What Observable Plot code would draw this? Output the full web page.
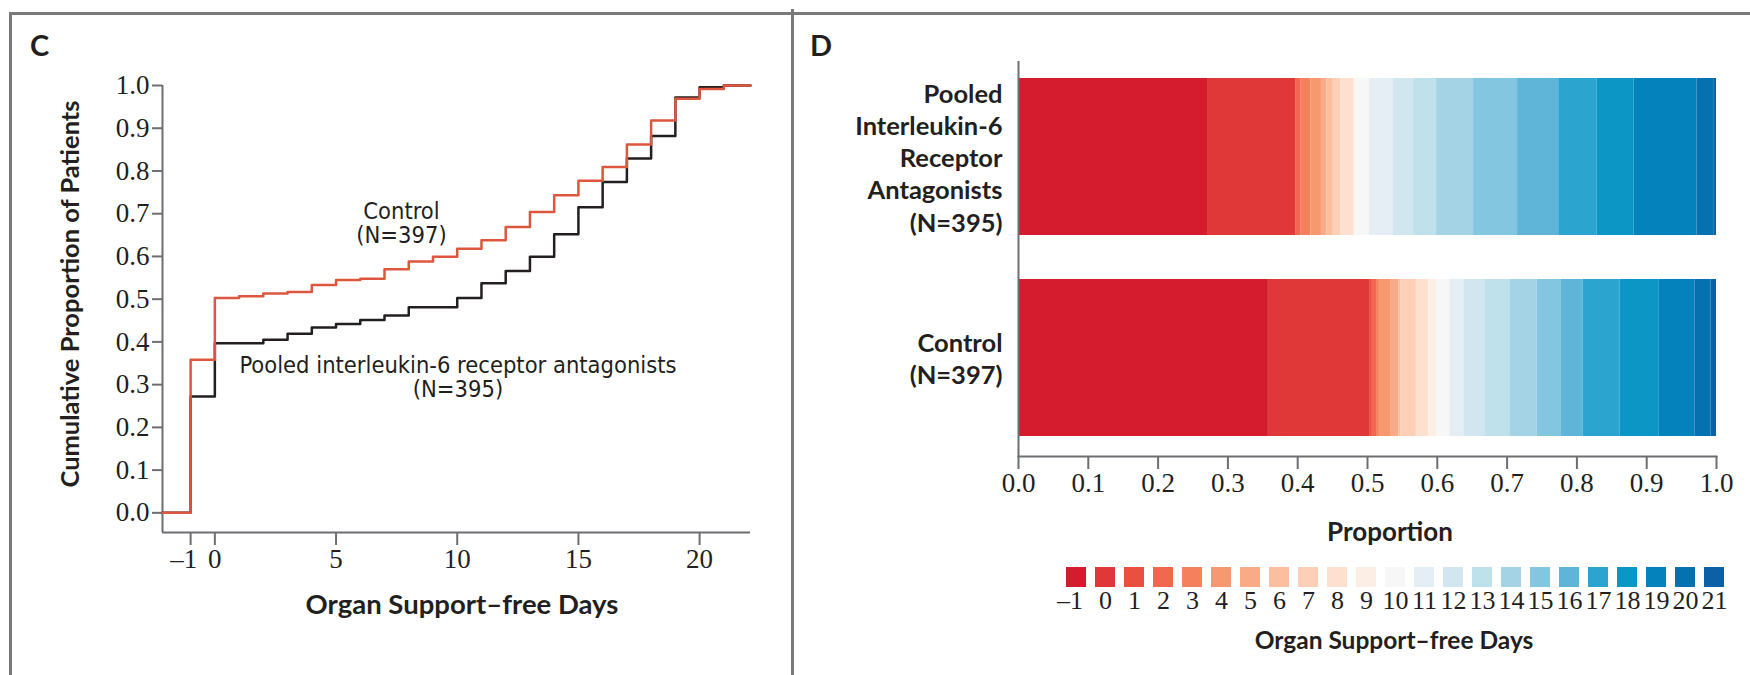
<!DOCTYPE html>
<html><head><meta charset="utf-8">
<script src="https://cdn.jsdelivr.net/npm/d3@7"></script>
<script src="https://cdn.jsdelivr.net/npm/@observablehq/plot@0.6"></script>
<style>
html,body{margin:0;padding:0;background:#fff;}
#root{position:relative;width:1750px;height:675px;overflow:hidden;background:#fff;}
#root svg{position:absolute;overflow:visible;}
.t{position:absolute;white-space:pre;color:#231f20;line-height:1;}
.line{position:absolute;background:#7a7a7a;}
</style></head><body><div id="root"></div>
<script>
// ---------- data ----------
const days = [-1,0,1,2,3,4,5,6,7,8,9,10,11,12,13,14,15,16,17,18,19,20,21];
// cumulative proportion of patients with organ support-free days <= day
const controlCum = [0.358,0.503,0.507,0.513,0.517,0.533,0.545,0.548,0.570,0.588,0.599,0.618,0.638,0.669,0.704,0.743,0.777,0.809,0.862,0.918,0.969,0.992,1.000];
const pooledCum  = [0.272,0.397,0.397,0.405,0.419,0.434,0.442,0.451,0.462,0.481,0.481,0.503,0.537,0.566,0.599,0.652,0.715,0.774,0.829,0.882,0.972,0.996,1.000];
const groupKeys = ["pooled","control"];
const groupLabels = ["Pooled\nInterleukin-6\nReceptor\nAntagonists\n(N=395)", "Control\n(N=397)"];
const dayColors = ["#d51c2e","#e03838","#ea5040","#f1674f","#f4805e","#f69870","#f8ab86","#fbbe9f","#fdcfb6","#fde0cf","#fcede5","#f7f7f7","#e4eef4","#d2e6f0","#bfe1eb","#a3d3e4","#83c6df","#5fb5d8","#2ba5cf","#0b96c5","#0382bc","#0571b0","#0b60a6"];
const yTicksC = [0,0.1,0.2,0.3,0.4,0.5,0.6,0.7,0.8,0.9,1.0];
const xTicksC = [-1,0,5,10,15,20];
const propTicks = [0,0.1,0.2,0.3,0.4,0.5,0.6,0.7,0.8,0.9,1.0];

// ---------- style constants ----------
const SERIF = "'Liberation Serif','DejaVu Serif',serif";
const BOLD = "Lato,'Open Sans',sans-serif";
const NARROW = "'Liberation Sans Narrow','DejaVu Sans Condensed','Liberation Sans',sans-serif";
const AX = "#6d6e71";
const INK = "#231f20";
// negative numbers: dash hangs to the left so the digit stays centred on its tick
const fmtDay = d => d < 0 ? "\u2013" + Math.abs(d) + "\u2007" : String(d);
const fmt1 = d3.format(".1f");

const root = document.getElementById("root");
function place(el, left, top){ el.style.left = left + "px"; el.style.top = top + "px"; root.appendChild(el); }
function text(str, cx, cy, font, size, weight, anchor, rotate){
  const d = document.createElement("div");
  d.className = "t"; d.textContent = str;
  d.style.fontFamily = font; d.style.fontSize = size + "px"; d.style.fontWeight = weight || "normal";
  const tx = anchor === "end" ? "-100%" : "-50%";
  d.style.transform = `translate(${tx},-50%)` + (rotate ? ` rotate(${rotate}deg)` : "");
  d.style.textAlign = "center";
  place(d, cx, cy);
}
function rule(l, t, w, h){ const d = document.createElement("div"); d.className = "line"; d.style.width = w+"px"; d.style.height = h+"px"; place(d, l, t); }

// panel borders
rule(9, 12, 1741, 3);
rule(9, 12, 3, 663);
rule(791, 9, 3, 666);

// ---------- Panel C ----------
const xDomC = [-2.16, 22.1];
const yDomC = [-0.046, 1];
const stepData = cum => [{day: xDomC[0], p: 0}, ...days.map((d, i) => ({day: d, p: cum[i]})), {day: xDomC[1], p: cum[cum.length - 1]}];
const plotC = Plot.plot({
  width: 790, height: 675,
  marginLeft: 162, marginRight: 40, marginTop: 85, marginBottom: 143,
  x: {domain: xDomC},
  y: {domain: yDomC},
  style: {fontFamily: SERIF, fontSize: "27px", color: INK, background: "transparent"},
  marks: [
    Plot.ruleX([xDomC[0]], {stroke: AX, strokeWidth: 2}),
    Plot.ruleY([yDomC[0]], {stroke: AX, strokeWidth: 2}),
    Plot.axisY({ticks: yTicksC, tickFormat: fmt1, tickSize: 10, tickPadding: 3, stroke: AX, strokeWidth: 2, fontSize: 27, fontFamily: SERIF, label: null}),
    Plot.axisX({ticks: xTicksC, tickFormat: fmtDay, tickSize: 13, tickPadding: 3, stroke: AX, strokeWidth: 2, fontSize: 27, fontFamily: SERIF, label: null}),
    Plot.line(stepData(pooledCum), {x: "day", y: "p", curve: "step-after", stroke: "#231f20", strokeWidth: 2.5}),
    Plot.line(stepData(controlCum), {x: "day", y: "p", curve: "step-after", stroke: "#dc573d", strokeWidth: 2.5})
  ]
});
place(plotC, 0, 0);

text("C", 39.5, 43.5, BOLD, 29, "bold");
text("Cumulative Proportion of Patients", 70, 294, BOLD, 25.5, "bold", null, -90);
text("Organ Support\u2013free Days", 462, 604, BOLD, 27.5, "bold");
text("Control\n(N=397)", 401.5, 223, NARROW, 23.5, "normal");
text("Pooled interleukin-6 receptor antagonists\n(N=395)", 458, 377, NARROW, 23.5, "normal");

// ---------- Panel D ----------
const barData = [];
[controlCum, pooledCum].forEach((cum, gi) => {
  const key = gi === 0 ? "control" : "pooled";
  days.forEach((d, i) => barData.push({group: key, day: d, p: cum[i] - (i ? cum[i - 1] : 0)}));
});
const labelOf = k => groupLabels[groupKeys.indexOf(k)];
const colorOpts = {type: "ordinal", domain: days, range: dayColors};
const plotD = Plot.plot({
  width: 950, height: 675,
  marginLeft: 218, marginRight: 34, marginTop: 61, marginBottom: 219,
  x: {domain: [0, 1]},
  y: {domain: groupKeys, paddingInner: 0.22, paddingOuter: 0.09, align: 0.45},
  color: colorOpts,
  style: {fontFamily: SERIF, fontSize: "27px", color: INK, background: "transparent"},
  marks: [
    Plot.barX(barData, {x: "p", y: "group", fill: "day", order: null}),
    Plot.ruleX([0], {stroke: AX, strokeWidth: 2}),
    Plot.frame({anchor: "bottom", stroke: AX, strokeWidth: 2}),
    Plot.axisX({ticks: propTicks, tickFormat: fmt1, tickSize: 13, tickPadding: 3, stroke: AX, strokeWidth: 2, fontSize: 27, fontFamily: SERIF, label: null}),
    Plot.axisY({tickSize: 0, tickPadding: 16, tickFormat: labelOf, fontFamily: BOLD, fontWeight: "bold", fontSize: 25.5, lineHeight: 1.26, label: null})
  ]
});
place(plotD, 800, 0);

text("D", 821, 43.5, BOLD, 29, "bold");
text("Proportion", 1390, 531, BOLD, 26, "bold");

// legend
const legend = Plot.plot({
  width: 750, height: 80,
  marginLeft: 59, marginRight: 19, marginTop: 27, marginBottom: 33,
  x: {type: "band", domain: days, paddingInner: 0.324, paddingOuter: 0},
  color: colorOpts,
  style: {fontFamily: SERIF, fontSize: "26px", color: INK, background: "transparent"},
  marks: [
    Plot.cell(days, {x: d => d, fill: d => d}),
    Plot.axisX({tickSize: 0, tickPadding: 3, tickFormat: fmtDay, fontSize: 26, fontFamily: SERIF, label: null})
  ]
});
place(legend, 1000, 540);
text("Organ Support\u2013free Days", 1394, 640, BOLD, 24.5, "bold");
</script></body></html>
